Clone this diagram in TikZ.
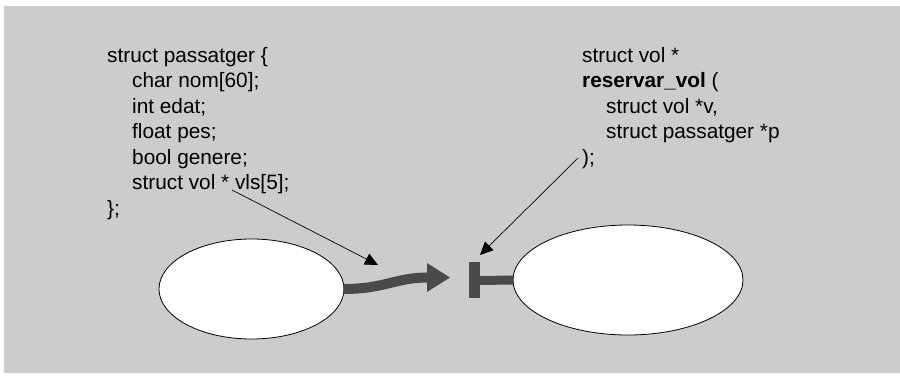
\documentclass[tikz,border=0pt]{standalone}
\usepackage{fontspec}
\setmainfont{Liberation Sans}
\usetikzlibrary{shapes.geometric,arrows.meta}
\definecolor{bggray}{HTML}{CCCCCC}
\definecolor{darkg}{HTML}{4A4A4A}
\begin{document}
\begin{tikzpicture}[x=1pt,y=-1pt,
  code/.style={anchor=base west,inner sep=0pt,font=\fontsize{20.8}{25}\selectfont},
  blob/.style={ellipse,draw=black,line width=0.8pt,fill=white,inner sep=0pt},
  thin/.style={line width=0.7pt,-{Triangle[length=13pt,width=12pt]}},
  thick/.style={darkg,line width=10pt}]
\useasboundingbox (0,0) rectangle (900,383);
\fill[bggray] (4,6) rectangle (900,373);
% left code
\node[code] (l1) at (107,62) {struct passatger \{};
\node[code] (l2) at (132,87.5) {char nom[60];};
\node[code] (l3) at (132,113) {int edat;};
\node[code] (l4) at (132,138.5) {float pes;};
\node[code] (l5) at (132,164) {bool genere;};
\node[code] (l6) at (132,189.5) {struct vol * vls[5];};
\node[code] (l7) at (107,215) {\};};
% right code
\node[code] (r1) at (582,62) {struct vol *};
\node[code] (r2) at (582,87.5) {\textbf{reservar\_vol} (};
\node[code] (r3) at (606,113) {struct vol *v,};
\node[code] (r4) at (606,138.5) {struct passatger *p};
\node[code] (r5) at (582,164) {);};
% ellipses
\node[blob,minimum width=185pt,minimum height=100pt] (A) at (251.5,289) {};
\node[blob,minimum width=230pt,minimum height=110pt] (B) at (628,280) {};
% thick arrow
\coordinate (hs) at (428,277.5);
\coordinate (ht) at (450,277.5);
\draw[thick] ([xshift=-1pt]A.east) .. controls (385,289) and (395,277.5) .. (hs);
\fill[darkg] (427,263) -- (ht) -- (427,292) -- cycle;
% T bar
\coordinate (tb) at (479,280.5);
\draw[darkg,line width=9pt] ([xshift=1pt]B.west) -- (tb);
\fill[darkg] (469,262) rectangle (480,298);
% thin arrows
\coordinate (s1) at (232,190);
\coordinate (e1) at (378,265);
\draw[thin] (s1) -- (e1);
\coordinate (s2) at (578,158);
\coordinate (e2) at (480,255);
\draw[thin] (s2) -- (e2);
\end{tikzpicture}
\end{document}
